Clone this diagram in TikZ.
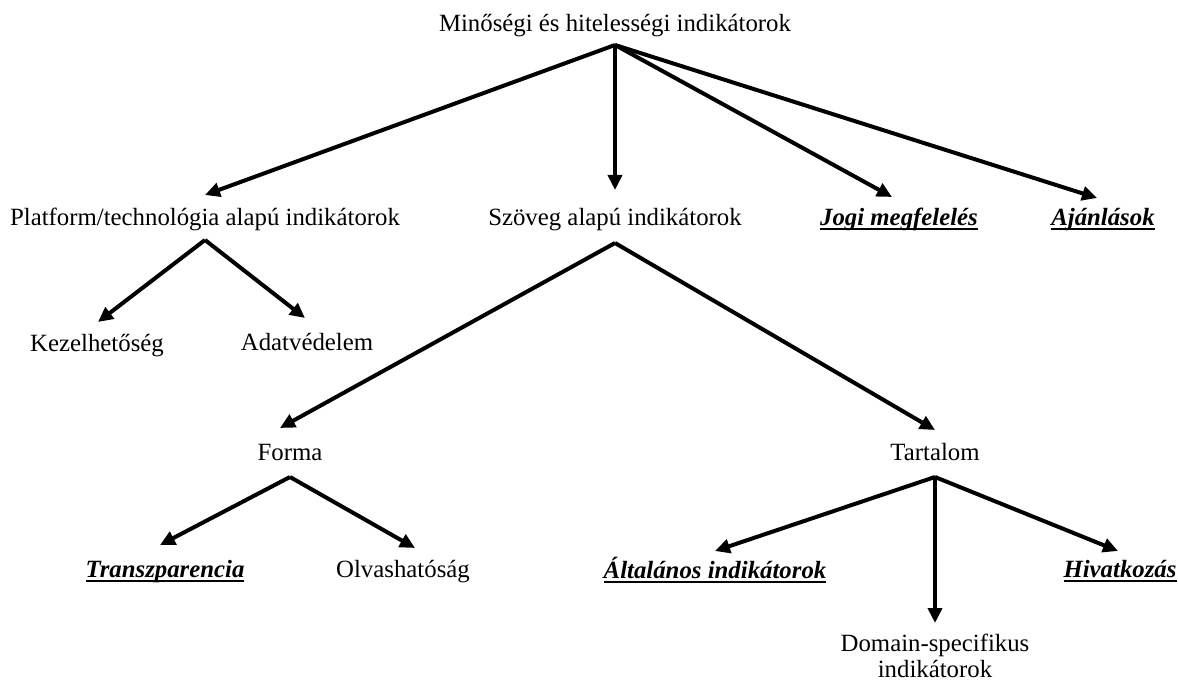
\documentclass[tikz,border=0pt]{standalone}
\usepackage{fontspec}
\setmainfont{Liberation Serif}
\usetikzlibrary{arrows.meta}
\newcommand\myul[1]{\setbox0\hbox{#1}\rlap{\rule[-4.5pt]{\wd0}{2pt}}\box0}
\tikzset{
  lbl/.style={font=\fontsize{24.8}{26}\selectfont, inner sep=0pt, text height=0pt, text depth=0pt, anchor=base},
  key/.style={lbl},
  arr/.style={line width=4pt, -{Triangle[length=15pt,width=14pt]}},
}
\newcommand\keytext[1]{\myul{\textbf{\textit{#1}}}}
\begin{document}
\begin{tikzpicture}[x=1pt,y=-1pt]
\useasboundingbox (0,0) rectangle (1178,684);
% nodes (placed at baselines)
\node[lbl] (root) at (615,32) {Minőségi és hitelességi indikátorok};
\node[lbl] (plat) at (205,226) {Platform/technológia alapú indikátorok};
\node[lbl] (szov) at (615,226) {Szöveg alapú indikátorok};
\node[key] (jogi) at (899,226) {\keytext{Jogi megfelelés}};
\node[key] (ajan) at (1103,226) {\keytext{Ajánlások}};
\node[lbl] (kez) at (97,352) {Kezelhetőség};
\node[lbl] (adat) at (307,351) {Adatvédelem};
\node[lbl] (forma) at (290,460) {Forma};
\node[lbl] (tart) at (935,460) {Tartalom};
\node[key] (transz) at (165,577) {\keytext{Transzparencia}};
\node[lbl] (olv) at (403,577) {Olvashatóság};
\node[key] (alt) at (715,578) {\keytext{Általános indikátorok}};
\node[key] (hiv) at (1120,577) {\keytext{Hivatkozás}};
\node[font=\fontsize{24.8}{26}\selectfont, inner sep=0pt, align=center, anchor=base] (dom) at (935,677) {Domain-specifikus\\indikátorok};
% start points
\coordinate (rootS) at ([shift={(0,13)}]root.base);
\coordinate (platS) at ([shift={(0,14)}]plat.base);
\coordinate (szovS) at ([shift={(0,17)}]szov.base);
\coordinate (formaS) at ([shift={(0,17)}]forma.base);
\coordinate (tartS) at ([shift={(0,17)}]tart.base);
% connectors
\draw[arr] (rootS) -- ([shift={(0,-31)}]plat.base);
\draw[arr] (rootS) -- ([shift={(0,-36)}]szov.base);
\draw[arr] (rootS) -- ([shift={(-7,-29)}]jogi.base);
\draw[arr] (rootS) -- ([shift={(-6,-28)}]ajan.base);
\draw[arr] (platS) -- ([shift={(1,-30)}]kez.base);
\draw[arr] (platS) -- ([shift={(-2,-33)}]adat.base);
\draw[arr] (szovS) -- ([shift={(-10,-32)}]forma.base);
\draw[arr] (szovS) -- ([shift={(0,-30)}]tart.base);
\draw[arr] (formaS) -- ([shift={(-5,-32)}]transz.base);
\draw[arr] (formaS) -- ([shift={(12,-29)}]olv.base);
\draw[arr] (tartS) -- ([shift={(0,-27)}]alt.base);
\draw[arr] (tartS) -- ([shift={(0,-54)}]dom.base);
\draw[arr] (tartS) -- ([shift={(-2,-26)}]hiv.base);
\end{tikzpicture}
\end{document}
